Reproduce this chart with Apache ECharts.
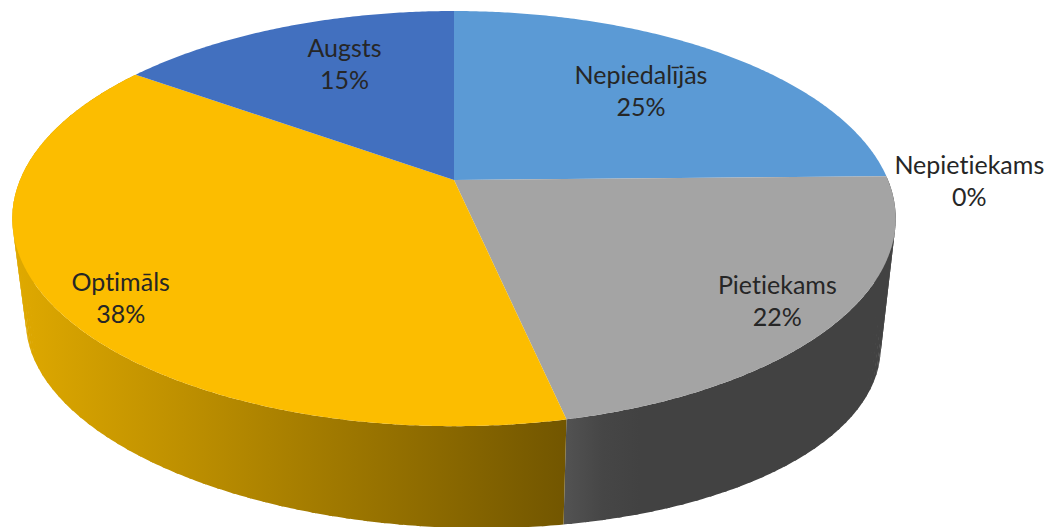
<!DOCTYPE html>
<html>
<head>
<meta charset="utf-8">
<style>html,body{margin:0;padding:0;background:#fff}#c{width:1054px;height:527px}
svg text{font-variant-ligatures:none !important;letter-spacing:0.01px}</style>
<script src="https://cdn.jsdelivr.net/npm/echarts@6/dist/echarts.min.js"></script>
</head>
<body>
<div id="c"></div>
<script>
// Data
var categories = ['Nepiedalījās', 'Nepietiekams', 'Pietiekams', 'Optimāls', 'Augsts'];
var values = [24.7, 0, 21.9, 38.3, 15.1];
var topColors = ['#5B9AD5', '#ED7D31', '#A4A4A4', '#FCBD00', '#4270BF'];

// Label placement, in the plane of the disc
var labelRadius = [0.67, 1.185, 0.865, 0.875, 0.70];
var labelTurn = [0, 1.6, 1.0, -4.5, 3.4];

// Perspective of the disc (k = foreshortening of the far side)
var k = 0.186;
var topPlane = { cx: 454, cy: 180, a: 434, b: 200.4, shearY: 0, shearX: 0 };
var basePlane = { cx: 453, cy: 298, a: 420, b: 187, shearY: 0.029, shearX: 0.0075 };

function project(plane, deg, r) {
  var t = deg * Math.PI / 180;
  var u = Math.sin(t) * r, v = Math.cos(t) * r;
  var w = 1 + k * v;
  var dx = plane.a * u / w, dy = -plane.b * v / w;
  return [plane.cx + dx + plane.shearX * dy, plane.cy + dy + plane.shearY * dx];
}
var total = values.reduce(function (s, v) { return s + v; }, 0);
function startDeg(i) {
  var s = 0;
  for (var j = 0; j < i; j++) s += values[j];
  return s / total * 360;
}
function arc(plane, from, to) {
  var n = Math.max(2, Math.ceil((to - from) * 2)), pts = [];
  for (var i = 0; i <= n; i++) pts.push(project(plane, from + (to - from) * i / n, 1));
  return pts;
}
function hGrad(x0, x1, stops) {
  return new echarts.graphic.LinearGradient(x0, 0, x1, 0, stops, true);
}
var sideFills = {
  2: hGrad(566, 640, [{ offset: 0, color: '#525252' }, { offset: 0.5, color: '#464646' }, { offset: 1, color: '#424242' }]),
  3: hGrad(15, 566, [{ offset: 0, color: '#DFA900' }, { offset: 1, color: '#725600' }])
};

var sideData = values.map(function (v, i) { return { name: categories[i], value: [i, v] }; });

var chart = echarts.init(document.getElementById('c'), null, { renderer: 'svg' });
chart.setOption({
  animation: false,
  backgroundColor: '#ffffff',
  series: [
    {
      type: 'custom', coordinateSystem: 'none', silent: true, z: 1,
      data: sideData,
      renderItem: function (params, api) {
        var i = api.value(0), v = api.value(1);
        if (!sideFills[i] || !v) return null;
        var from = startDeg(i), to = from + v / total * 360;
        // The wall is a ruled strip: one quad per step, so the tangent silhouette is filled
        var a = arc(topPlane, from, to), b = arc(basePlane, from, to), kids = [];
        var step = 4;
        for (var j = 0; j < a.length - 1; j += step) {
          var e = Math.min(j + step + 1, a.length - 1);
          var pts = a.slice(j, e + 1).concat(b.slice(j, e + 1).reverse());
          kids.push({ type: 'polygon', shape: { points: pts }, style: { fill: sideFills[i] } });
        }
        return { type: 'group', children: kids };
      }
    },
    {
      type: 'custom', coordinateSystem: 'none', silent: true, z: 2,
      data: sideData,
      renderItem: function (params, api) {
        var i = api.value(0), v = api.value(1);
        if (!v) return null;
        var from = startDeg(i), to = from + v / total * 360;
        var pts = [project(topPlane, 0, 0)].concat(arc(topPlane, from, to));
        return { type: 'polygon', shape: { points: pts }, style: { fill: topColors[i] } };
      }
    },
    {
      type: 'custom', coordinateSystem: 'none', silent: true, z: 3,
      data: sideData,
      renderItem: function (params, api) {
        var i = api.value(0), v = api.value(1);
        var mid = startDeg(i) + v / total * 180 + labelTurn[i];
        var p = project(topPlane, mid, labelRadius[i]);
        return {
          type: 'text', x: p[0], y: p[1] - 2,
          style: {
            text: categories[i] + '\n' + Math.round(v) + '%',
            fill: '#262626', font: '25px Lato',
            align: 'center', verticalAlign: 'middle', lineHeight: 32
          }
        };
      }
    }
  ]
});
</script>
</body>
</html>
